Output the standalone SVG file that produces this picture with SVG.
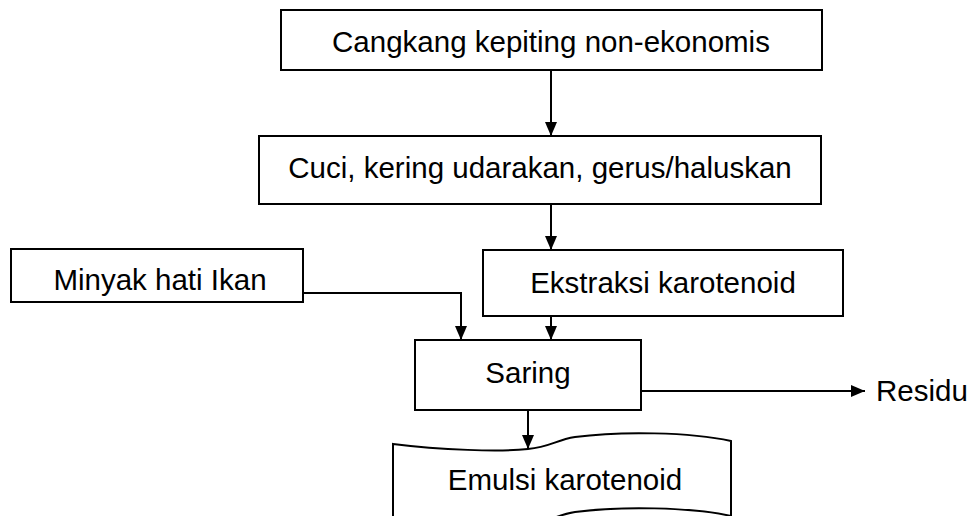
<svg xmlns="http://www.w3.org/2000/svg" width="974" height="516" viewBox="0 0 974 516">
<style>
.box{fill:#fff;stroke:#000;stroke-width:2}
.t{font-family:"Liberation Sans",Arial,sans-serif;font-size:29.5px;fill:#000}
.c{text-anchor:middle}
.ln{fill:none;stroke:#000;stroke-width:2}
</style>
<defs>
<marker id="ah" viewBox="0 0 14 12" refX="14" refY="6" markerWidth="14" markerHeight="12" markerUnits="userSpaceOnUse" orient="auto">
<path d="M0,0 L14,6 L0,12 Z" fill="#000"/>
</marker>
</defs>
<rect width="974" height="516" fill="#fff"/>
<g id="n1"><rect class="box" x="281" y="10" width="541" height="60"/><text class="t c" x="551" y="52">Cangkang kepiting non-ekonomis</text></g>
<g id="n2"><rect class="box" x="259" y="136" width="562" height="68"/><text class="t c" x="540" y="178">Cuci, kering udarakan, gerus/haluskan</text></g>
<g id="n3"><rect class="box" x="483" y="250" width="360" height="66"/><text class="t c" x="663" y="293">Ekstraksi karotenoid</text></g>
<g id="n4"><rect class="box" x="11" y="249" width="292" height="53"/><text class="t c" x="160" y="290">Minyak hati Ikan</text></g>
<g id="n5"><rect class="box" x="415" y="340" width="226" height="70"/><text class="t c" x="528" y="383">Saring</text></g>
<g id="n6"><path class="box" d="M393,444 C440,450 500,452 528,449 C550,447 556,440 575,437 C620,431 690,432 731,441 L731,516 C690,507 620,506 575,512 C556,515 550,522 528,524 C500,527 440,525 393,519 Z"/><text class="t c" x="565" y="490">Emulsi karotenoid</text></g>
<g id="n7"><text class="t" x="876" y="401">Residu</text></g>
<g id="edges">
<line class="ln" x1="551" y1="70" x2="551" y2="136" marker-end="url(#ah)"/>
<line class="ln" x1="551" y1="204" x2="551" y2="250" marker-end="url(#ah)"/>
<polyline class="ln" points="303,293 461,293 461,340" marker-end="url(#ah)"/>
<line class="ln" x1="551" y1="316" x2="551" y2="340" marker-end="url(#ah)"/>
<line class="ln" x1="641" y1="391" x2="865" y2="391" marker-end="url(#ah)"/>
<line class="ln" x1="528" y1="410" x2="528" y2="449" marker-end="url(#ah)"/>
</g>
</svg>
